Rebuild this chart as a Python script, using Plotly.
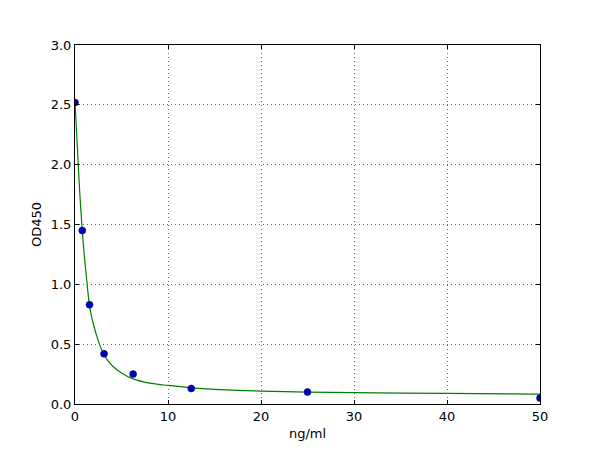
"""Standard curve: OD450 vs concentration (ng/ml), with fitted curve."""

import plotly.graph_objects as go

# ── Data ────────────────────────────────────────────────────────

conc = [0, 0.78, 1.56, 3.125, 6.25, 12.5, 25, 50]
od450 = [2.52, 1.45, 0.83, 0.42, 0.25, 0.13, 0.10, 0.05]

# fitted curve
fit_x = [0, 0.25, 0.5, 0.78, 1.0, 1.25, 1.56, 2.0, 2.5, 3.125, 4.0, 5.0,
         6.25, 8.0, 10, 12.5, 15, 20, 25, 30, 40, 50]
fit_y = [2.52, 2.15, 1.78, 1.45, 1.24, 1.04, 0.82, 0.66, 0.53, 0.41, 0.32,
         0.26, 0.21, 0.175, 0.155, 0.135, 0.122, 0.108, 0.100, 0.095,
         0.088, 0.083]

x_ticks = [0, 10, 20, 30, 40, 50]
y_ticks = [0.0, 0.5, 1.0, 1.5, 2.0, 2.5, 3.0]

# ── Figure ──────────────────────────────────────────────────────

fig = go.Figure()
fig.add_trace(go.Scatter(
    x=fit_x, y=fit_y, mode="lines",
    line=dict(color="#008000", width=1.2, shape="spline", smoothing=0.6),
    hoverinfo="skip",
))
fig.add_trace(go.Scatter(
    x=conc, y=od450, mode="markers",
    marker=dict(color="#0000bf", size=7,
                line=dict(color="#000060", width=0.5)),
))

axis_common = dict(
    showline=True, linecolor="black", linewidth=1, mirror="all",
    ticks="inside", ticklen=4, tickcolor="black",
    showgrid=True, gridcolor="#666666", griddash="1px,3px", gridwidth=1,
    zeroline=False,
    tickfont=dict(family="DejaVu Sans", size=13, color="black"),
    title_font=dict(family="DejaVu Sans", size=13, color="black"),
)

fig.update_xaxes(
    range=[0, 50], tickvals=x_ticks,
    ticktext=[str(v) for v in x_ticks],
    title_text="ng/ml", title_standoff=6,
    **axis_common,
)
fig.update_yaxes(
    range=[0, 3.0], tickvals=y_ticks,
    ticktext=[f"{v:.1f}" for v in y_ticks],
    title_text="OD450", title_standoff=6,
    **axis_common,
)

# page body adds an 8px offset, so margins are shifted to compensate
fig.update_layout(
    width=600, height=450,
    margin=dict(l=67, r=68, t=37, b=54),
    paper_bgcolor="white", plot_bgcolor="white",
    showlegend=False,
    font=dict(family="DejaVu Sans", size=13, color="black"),
)

fig.write_html("out.html")
